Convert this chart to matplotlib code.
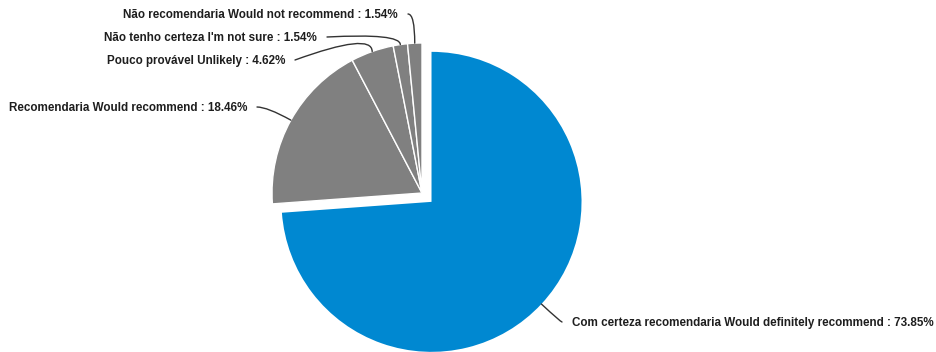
import numpy as np
import matplotlib.pyplot as plt

labels = [
    "Com certeza recomendaria Would definitely recommend",
    "Recomendaria Would recommend",
    "Pouco provável Unlikely",
    "Não tenho certeza I'm not sure",
    "Não recomendaria Would not recommend",
]
shares = [73.85, 18.46, 4.62, 1.54, 1.54]
colors = ["#0088d1", "#808080", "#808080", "#808080", "#808080"]

# label anchor (x, y in pixels from top-left) and alignment for each slice
label_pos = [(572, 323, "left"), (247, 108, "right"), (285, 61, "right"),
             (317, 38, "right"), (398, 15, "right")]
# connector start tangent (degrees) for each label
conn_angle = [0, 0, 20, 3, 0]

W, H = 937, 352
cx, cy, r = 422, H - 193, 150
explode = [13, 0, 0, 0, 0]

plt.rcParams["font.family"] = ["Liberation Sans", "DejaVu Sans"]
fig = plt.figure(figsize=(W / 100, H / 100), dpi=100)
ax = fig.add_axes([0, 0, 1, 1])

wedges, _ = ax.pie(shares, center=(cx, cy), radius=r, startangle=90,
                   counterclock=False, explode=explode, colors=colors,
                   wedgeprops=dict(edgecolor="white", linewidth=1))
wedges[0].set_edgecolor("none")

ax.set_xlim(0, W)
ax.set_ylim(0, H)
ax.set_aspect("equal")
ax.axis("off")

for i, (w, lab, val, (tx, ty, ha)) in enumerate(zip(wedges, labels, shares, label_pos)):
    mid_deg = (w.theta1 + w.theta2) / 2
    mid = np.deg2rad(mid_deg)
    px = w.center[0] + r * np.cos(mid)
    py = w.center[1] + r * np.sin(mid)
    ax.text(tx, H - ty, f"{lab} : {val:.2f}%", ha=ha, va="center",
            fontsize=8.4, fontweight="bold", color="#1e1e1e")
    # soft connector from the label edge to the slice rim
    sx = tx + 10 if ha == "right" else tx - 10
    end_angle = 90 if i >= 2 else mid_deg
    ax.annotate("", xy=(px, py), xytext=(sx, H - ty + 1),
                arrowprops=dict(arrowstyle="-", color="#333333", lw=1,
                                shrinkA=0, shrinkB=0,
                                connectionstyle=f"angle3,angleA={conn_angle[i]},angleB={end_angle}"))

fig.savefig("out.png", dpi=100)
